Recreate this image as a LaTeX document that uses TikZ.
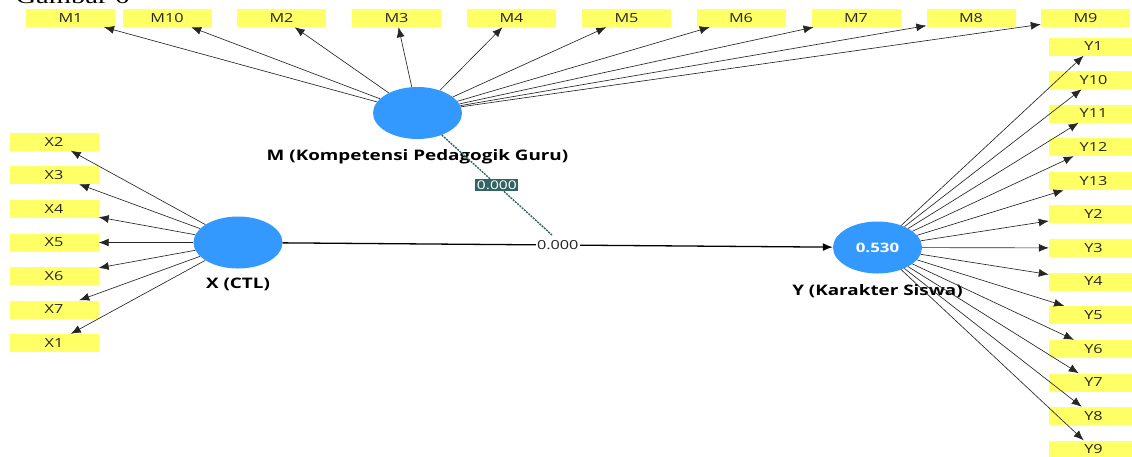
\documentclass[tikz,border=0pt]{standalone}
\usepackage{fontspec}
\usepackage{tikz}
\usetikzlibrary{positioning,shapes.geometric,arrows.meta}
\newfontfamily\boxfont{Open Sans}[FakeStretch=1.3]
\newfontfamily\capfont{Liberation Serif}[FakeStretch=1.3]
\definecolor{indyellow}{RGB}{255,255,102}
\definecolor{latblue}{RGB}{51,153,255}
\definecolor{modteal}{RGB}{50,100,100}
\tikzset{
  indicator/.style={fill=indyellow,minimum width=89pt,minimum height=18pt,inner sep=0pt,
    font=\boxfont\fontsize{12.5}{14}\selectfont,text=black!85},
  latent/.style={ellipse,fill=latblue,minimum width=89pt,minimum height=52pt,inner sep=0pt,
    font=\boxfont\bfseries\fontsize{13}{15}\selectfont,text=white},
  latlabel/.style={font=\boxfont\bfseries\fontsize{14.5}{16}\selectfont},
  loading/.style={-{Latex[length=10pt,width=8pt]},black!85,line width=0.65pt},
}
\begin{document}
\begin{tikzpicture}[x=1pt,y=-1pt]
  \useasboundingbox (0,0) rectangle (1132,456);
  \node[anchor=base west,font=\capfont\fontsize{22}{24}\selectfont] (caption) at (12,3) {Gambar 6};
  % indicators of M
  \node[indicator] (m1) at (70.5,18) {M1};
  \node[indicator] (m10) at (167,18) {M10};
  \node[indicator] (m2) at (281.5,18) {M2};
  \node[indicator] (m3) at (396.5,18) {M3};
  \node[indicator] (m4) at (511.5,18) {M4};
  \node[indicator] (m5) at (626.5,18) {M5};
  \node[indicator] (m6) at (741,18) {M6};
  \node[indicator] (m7) at (856,18) {M7};
  \node[indicator] (m8) at (971,18) {M8};
  \node[indicator] (m9) at (1085.5,18) {M9};
  % indicators of X
  \node[indicator] (x2) at (54,141.5) {X2};
  \node[indicator] (x3) at (54,175) {X3};
  \node[indicator] (x4) at (54,209) {X4};
  \node[indicator] (x5) at (54,242.5) {X5};
  \node[indicator] (x6) at (54,276) {X6};
  \node[indicator] (x7) at (54,309.5) {X7};
  \node[indicator] (x1) at (54,343) {X1};
  % indicators of Y
  \node[indicator] (y1) at (1093.5,46.5) {Y1};
  \node[indicator] (y10) at (1093.5,80) {Y10};
  \node[indicator] (y11) at (1093.5,113.5) {Y11};
  \node[indicator] (y12) at (1093.5,147) {Y12};
  \node[indicator] (y13) at (1093.5,181) {Y13};
  \node[indicator] (y2) at (1093.5,214) {Y2};
  \node[indicator] (y3) at (1093.5,248) {Y3};
  \node[indicator] (y4) at (1093.5,281.5) {Y4};
  \node[indicator] (y5) at (1093.5,315) {Y5};
  \node[indicator] (y6) at (1093.5,349) {Y6};
  \node[indicator] (y7) at (1093.5,382.5) {Y7};
  \node[indicator] (y8) at (1093.5,416) {Y8};
  \node[indicator] (y9) at (1093.5,449.5) {Y9};
  % latent variables
  \node[latent] (med) at (417.5,113) {};
  \node[latent] (ctl) at (238,242.5) {};
  \node[latent] (kar) at (877.5,247.5) {0.530};
  \node[latlabel,below=7pt of med] (medlab) {M (Kompetensi Pedagogik Guru)};
  \node[latlabel,below=6pt of ctl] (ctllab) {X (CTL)};
  \node[latlabel,below=7pt of kar] (karlab) {Y (Karakter Siswa)};
  \coordinate (modend) at (552,235);
  % loadings
  \draw[loading] (med) -- (m1);
  \draw[loading] (med) -- (m10);
  \draw[loading] (med) -- (m2);
  \draw[loading] (med) -- (m3);
  \draw[loading] (med) -- (m4);
  \draw[loading] (med) -- (m5);
  \draw[loading] (med) -- (m6);
  \draw[loading] (med) -- (m7);
  \draw[loading] (med) -- (m8);
  \draw[loading] (med) -- (m9);
  \draw[loading] (ctl) -- (x2);
  \draw[loading] (ctl) -- (x3);
  \draw[loading] (ctl) -- (x4);
  \draw[loading] (ctl) -- (x5);
  \draw[loading] (ctl) -- (x6);
  \draw[loading] (ctl) -- (x7);
  \draw[loading] (ctl) -- (x1);
  \draw[loading] (kar) -- (y1);
  \draw[loading] (kar) -- (y10);
  \draw[loading] (kar) -- (y11);
  \draw[loading] (kar) -- (y12);
  \draw[loading] (kar) -- (y13);
  \draw[loading] (kar) -- (y2);
  \draw[loading] (kar) -- (y3);
  \draw[loading] (kar) -- (y4);
  \draw[loading] (kar) -- (y5);
  \draw[loading] (kar) -- (y6);
  \draw[loading] (kar) -- (y7);
  \draw[loading] (kar) -- (y8);
  \draw[loading] (kar) -- (y9);
  % paths
  \draw[-{Latex[length=10pt,width=8pt]},line width=1.3pt] (ctl) -- node[midway,fill=white,inner sep=1pt,font=\boxfont\fontsize{12.5}{14}\selectfont,text=black!85] {0.000} (kar);
  \draw[modteal,line width=1.4pt,dash pattern=on 2pt off 1pt] (med) -- node[midway,fill=modteal,text=white,inner sep=1.5pt,font=\boxfont\fontsize{12}{13}\selectfont] {0.000} (modend);
\end{tikzpicture}
\end{document}
